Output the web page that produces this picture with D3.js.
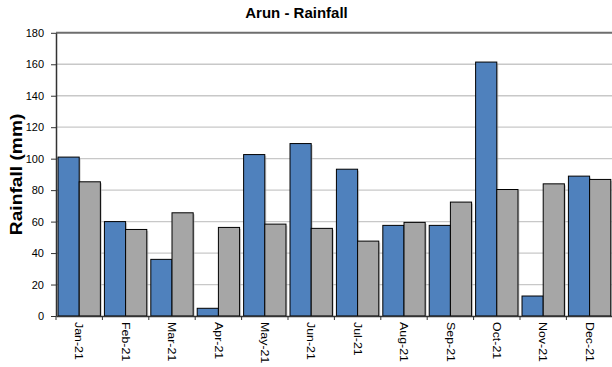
<!DOCTYPE html>
<html><head><meta charset="utf-8">
<script src="https://cdn.jsdelivr.net/npm/d3@7"></script>
<style>body{margin:0;background:#fff}svg{display:block;font-family:Arial,"Liberation Sans",sans-serif}</style>
</head><body><svg id="c" width="612" height="367"></svg>
<script>
const months = ["Jan-21","Feb-21","Mar-21","Apr-21","May-21","Jun-21","Jul-21","Aug-21","Sep-21","Oct-21","Nov-21","Dec-21"];
const seriesA = [101, 60, 36, 4.9, 102.6, 109.6, 93.3, 57.6, 57.6, 161.4, 12.7, 88.9];
const seriesB = [85.3, 55, 65.6, 56.3, 58.4, 55.7, 47.6, 59.5, 72.4, 80.4, 84, 86.8];
const yTicks = [0,20,40,60,80,100,120,140,160,180];
const title = "Arun - Rainfall";
const yTitle = "Rainfall (mm)";
const colors = ["#4F81BD", "#A6A6A6"];

const svg = d3.select("#c");
const L = 56, R = 612.8, T = 32.8, B = 316;
const x = d3.scaleBand().domain(months).range([L, R]).padding(0);
const xs = d3.scaleBand().domain([0,1]).range([0, x.bandwidth()]).paddingInner(0).paddingOuter(0.095);
const y = d3.scaleLinear().domain([0,180]).range([B, T]);

svg.append("g").selectAll("line").data(yTicks.filter(d => d > 0 && d < 180)).join("line")
  .attr("x1", L).attr("x2", 612).attr("y1", d => y(d)).attr("y2", d => y(d))
  .attr("stroke", "#c8c8c8").attr("stroke-width", 1.3);
svg.append("line").attr("x1", L).attr("x2", 612).attr("y1", y(180)).attr("y2", y(180))
  .attr("stroke", "#6e6e6e").attr("stroke-width", 2);

const data = [];
months.forEach((m, i) => { data.push({m, s:0, v: seriesA[i]}); data.push({m, s:1, v: seriesB[i]}); });
const g = svg.append("g");
g.selectAll("rect.sh").data(data).join("rect").attr("class","sh")
  .attr("x", d => x(d.m) + xs(d.s) + 1.5).attr("y", d => y(d.v) + 1.5)
  .attr("width", xs.bandwidth()).attr("height", d => B - y(d.v) - 1.5)
  .attr("fill", "#b0b0b0").attr("opacity", 0.6);
g.selectAll("rect.b").data(data).join("rect").attr("class","b")
  .attr("x", d => x(d.m) + xs(d.s)).attr("y", d => y(d.v))
  .attr("width", xs.bandwidth()).attr("height", d => B - y(d.v))
  .attr("fill", d => colors[d.s]).attr("stroke", "#000").attr("stroke-width", 1);

const ya = svg.append("g").attr("transform", `translate(${L},0)`)
  .call(d3.axisLeft(y).tickValues(yTicks).tickSize(5).tickPadding(7).tickSizeOuter(0));
ya.select(".domain").attr("stroke", "#333").attr("stroke-width", 1.5);
ya.selectAll(".tick line").attr("stroke", "#333");
ya.selectAll("text").attr("font-size", 11).attr("fill", "#000").attr("font-family", "Arial,'Liberation Sans',sans-serif");

const xa = svg.append("g").attr("transform", `translate(0,${B})`)
  .call(d3.axisBottom(x).tickSize(0).tickSizeOuter(0));
xa.select(".domain").attr("stroke", "#333").attr("stroke-width", 1.5);
xa.selectAll(".tick text").attr("font-size", 11).attr("fill", "#000")
  .attr("font-family", "Arial,'Liberation Sans',sans-serif")
  .attr("transform", "rotate(90) scale(1.13,1)").attr("text-anchor", "start")
  .attr("x", 5.3).attr("y", 0).attr("dy", "0.35em");
svg.append("g").selectAll("line").data(months.map(m => x(m)).concat([R])).join("line")
  .attr("x1", d => d).attr("x2", d => d).attr("y1", B).attr("y2", B + 4)
  .attr("stroke", "#333");

svg.append("text").attr("x", 296.5).attr("y", 17.5).attr("text-anchor", "middle")
  .attr("font-size", 15).attr("font-weight", "bold").text(title);
svg.append("text").attr("transform", `translate(22,${(T+B)/2}) rotate(-90) scale(1.13,1)`)
  .attr("text-anchor", "middle").attr("font-size", 17).attr("font-weight", "bold").text(yTitle);
</script>
</body></html>
